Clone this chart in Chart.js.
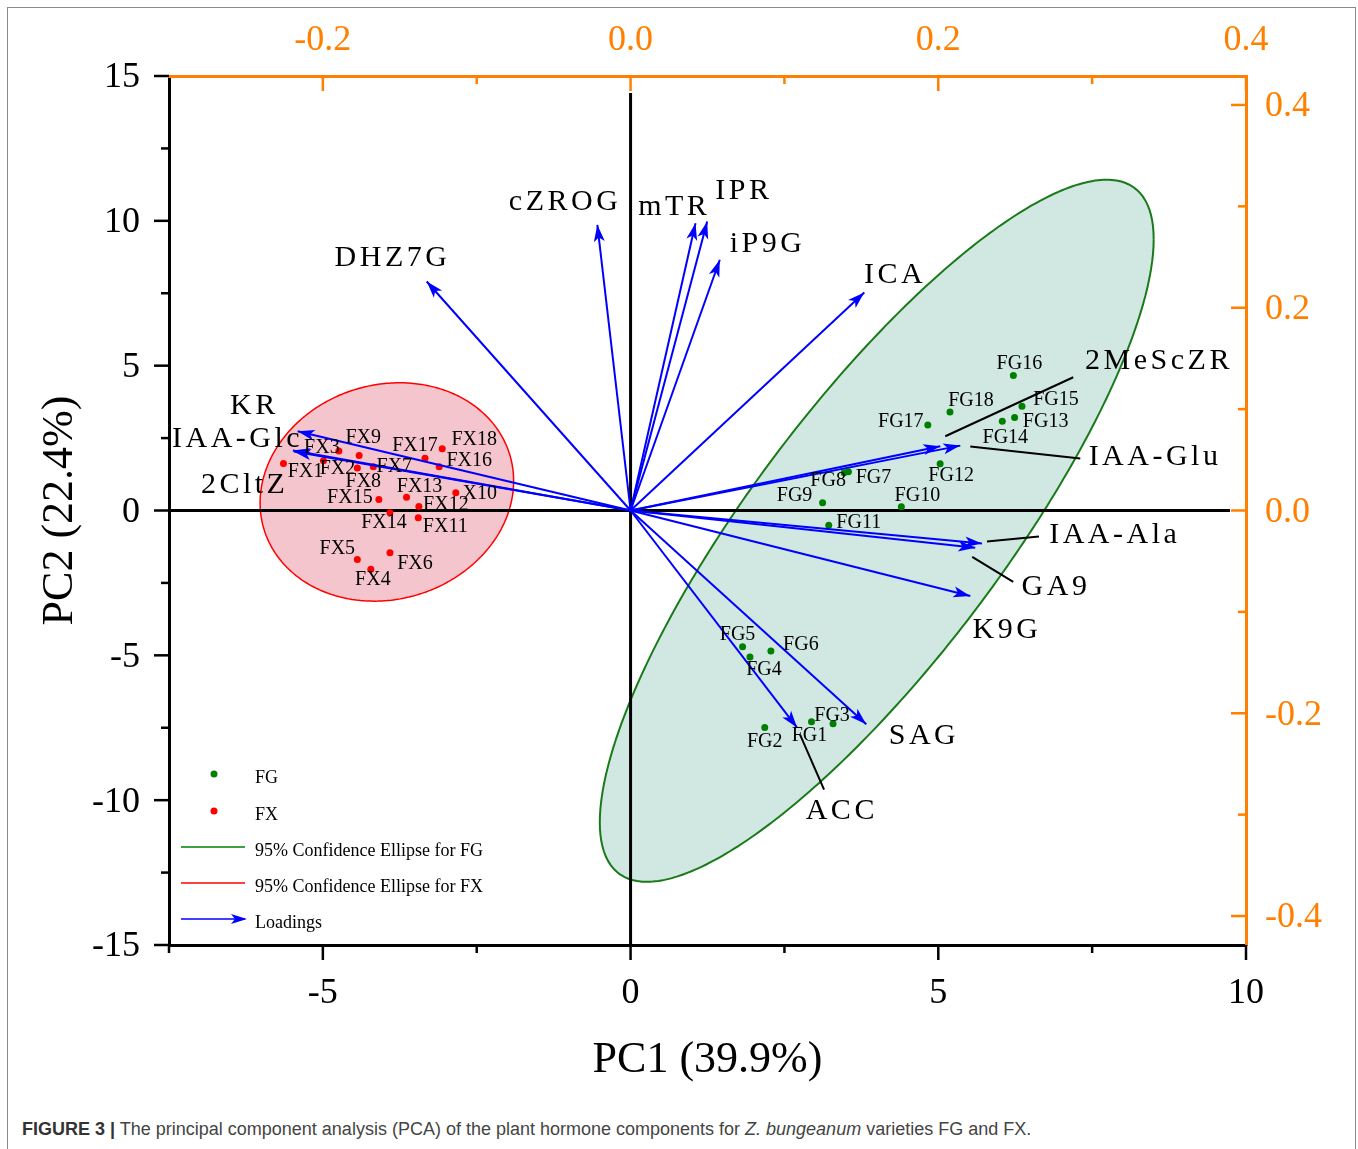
<!DOCTYPE html>
<html>
<head>
<meta charset="utf-8">
<script src="https://cdn.jsdelivr.net/npm/chart.js@4.4.0/dist/chart.umd.min.js"></script>
<style>
html, body { margin: 0; padding: 0; background: #fff; }
#wrap { position: relative; width: 1358px; height: 1149px; overflow: hidden; }
#frame { position: absolute; left: 7px; top: 7px; width: 1349px; height: 1200px; box-sizing: border-box;
         border: 1.5px solid #8a8a8a; border-bottom: none; }
#cv { position: absolute; left: 0; top: 0; }
#caption { position: absolute; left: 22px; top: 1119px; font: 18px 'Liberation Sans', Arial, sans-serif;
           color: #444; white-space: nowrap; }
#caption b { color: #333; }
</style>
</head>
<body>
<div id="wrap">
  <div id="frame"></div>
  <canvas id="cv" width="1358" height="1100"></canvas>
  <div id="caption"><b>FIGURE 3 |</b> The principal component analysis (PCA) of the plant hormone components for <i>Z. bungeanum</i> varieties FG and FX.</div>
</div>
<script>
// sample scores (PC1, PC2)
const fgNames = ['FG1','FG2','FG3','FG4','FG5','FG6','FG7','FG8','FG9','FG10','FG11','FG12','FG13','FG14','FG15','FG16','FG17','FG18'];
const fgPC1 = [2.94, 2.18, 3.29, 1.94, 1.82, 2.28, 3.54, 3.47, 3.12, 4.40, 3.22, 5.03, 6.24, 6.04, 6.36, 6.22, 4.83, 5.19];
const fgPC2 = [-7.29, -7.49, -7.36, -5.06, -4.70, -4.85, 1.34, 1.30, 0.27, 0.13, -0.51, 1.61, 3.21, 3.08, 3.60, 4.66, 2.95, 3.40];

const fxNames = ['FX1','FX2','FX3','FX4','FX5','FX6','FX7','FX8','FX9','X10','FX11','FX12','FX13','FX14','FX15','FX16','FX17','FX18'];
const fxPC1 = [-5.64, -4.99, -4.74, -4.22, -4.44, -3.91, -4.18, -4.44, -4.41, -2.84, -3.45, -3.44, -3.64, -3.91, -4.09, -3.11, -3.34, -3.06];
const fxPC2 = [1.62, 1.72, 2.05, -2.03, -1.69, -1.46, 1.51, 1.47, 1.90, 0.61, -0.25, 0.14, 0.46, -0.08, 0.38, 1.51, 1.80, 2.13];

// variable loadings (top / right axes)
const loadNames = ['DHZ7G','cZROG','mTR','IPR','iP9G','ICA','KR','IAA-Glc','2CltZ','2MeScZR','IAA-Glu','IAA-Ala','GA9','K9G','SAG','ACC'];
const loadPC1 = [-0.1325, -0.0216, 0.0422, 0.0498, 0.0580, 0.1519, -0.2164, -0.2195, -0.2188, 0.2013, 0.2143, 0.2284, 0.2240, 0.2208, 0.1532, 0.1082];
const loadPC2 = [0.2259, 0.2818, 0.2834, 0.2850, 0.2473, 0.2151, 0.0781, 0.0591, 0.0581, 0.0634, 0.0640, -0.0325, -0.0368, -0.0844, -0.2108, -0.2141];

// 95% confidence ellipses: centre PC1, centre PC2, half range PC1, half range PC2, correlation
const fgEllipse = [4.00, -0.70, 4.50, 12.12, 0.83];
const fxEllipse = [-3.96, 0.64, 2.06, 3.77, 0.10];

// axis ticks
const pc1Ticks = [-5, 0, 5, 10];
const pc1Minor = [-7.5, -2.5, 2.5, 7.5];
const pc2Ticks = [-15, -10, -5, 0, 5, 10, 15];
const pc2Minor = [-12.5, -7.5, -2.5, 2.5, 7.5, 12.5];
const ldXTicks = [-0.2, 0, 0.2, 0.4];
const ldXMinor = [-0.1, 0.1, 0.3];
const ldYTicks = [-0.4, -0.2, 0, 0.2, 0.4];
const ldYMinor = [-0.3, -0.1, 0.1, 0.3];

// label placement (pixel offsets of label centre from its mark)
const fgLabelOff = [[-2,14],[0,14],[-1,-8],[14,13],[-5,-12],[30,-6],[25,6],[-16,8],[-28,-7],[16,-11],[30,-3],[11,12],[31,4],[3,16],[34,-6],[6,-12],[-27,-3],[21,-11]];
const fxLabelOff = [[22,8],[14,8],[-17,-3],[2,10],[-20,-11],[25,11],[21,0],[6,14],[4,-18],[24,1],[27,9],[27,-2],[13,-10],[-6,10],[-29,-2],[30,-6],[-10,-13],[32,-9]];
const loadLabelOff = [[-36,-23],[-34,-23],[-23,-16],[35,-30],[46,-16],[29,-17],[-45,-25],[-57,-11],[-51,34],[217,-85],[193,12],[131,-8],[79,39],[35,34],[56,12],[43,84]];
const loadLeader = [null,null,null,null,null,null,null,null,null,[5,-10,133,-69],[10,1,120,13],[5,-2,57,-7],[-3,9,38,34],null,null,[3,7,27,62]];

const SERIF = "'Liberation Serif', 'Times New Roman', serif";
const ORANGE = '#ff8000';

function ellipsePoints(e) {
    const [cx, cy, rx, ry, c] = e;
    const phi = Math.acos(c);
    const pts = [];
    for (let i = 0; i <= 180; i++) {
        const t = i / 180 * 2 * Math.PI;
        pts.push({ x: cx + rx * Math.cos(t), y: cy + ry * Math.cos(t - phi) });
    }
    return pts;
}

const datasets = [];
datasets.push({
    label: 'FG ellipse', data: ellipsePoints(fgEllipse), showLine: true, fill: 'shape', tension: 0.001,
    backgroundColor: 'rgba(170,214,200,0.55)', borderColor: '#1a7a1a', borderWidth: 2,
    pointRadius: 0, order: 11
});
datasets.push({
    label: 'FX ellipse', data: ellipsePoints(fxEllipse), showLine: true, fill: 'shape', tension: 0.001,
    backgroundColor: 'rgba(236,150,165,0.55)', borderColor: '#ff0000', borderWidth: 1.5,
    pointRadius: 0, order: 10
});
datasets.push({
    label: 'FG', data: fgPC1.map((v, i) => ({ x: v, y: fgPC2[i] })),
    backgroundColor: '#008000', borderWidth: 0, pointRadius: 3.5, order: 2
});
datasets.push({
    label: 'FX', data: fxPC1.map((v, i) => ({ x: v, y: fxPC2[i] })),
    backgroundColor: '#ff0000', borderWidth: 0, pointRadius: 3.5, order: 2
});
loadNames.forEach((n, i) => {
    datasets.push({
        label: n, isLoading: true, data: [{ x: 0, y: 0 }, { x: loadPC1[i], y: loadPC2[i] }],
        xAxisID: 'x2', yAxisID: 'y2', showLine: true, borderColor: '#0000ff', borderWidth: 2,
        pointRadius: 0, order: 1
    });
});

function arrowHead(ctx, x, y, ang, len, half) {
    ctx.save();
    ctx.translate(x, y);
    ctx.rotate(ang);
    ctx.beginPath();
    ctx.moveTo(0, 0);
    ctx.lineTo(-len, -half);
    ctx.lineTo(-len * 0.75, 0);
    ctx.lineTo(-len, half);
    ctx.closePath();
    ctx.fill();
    ctx.restore();
}

function spacedText(ctx, txt, cx, cy, sp) {
    ctx.letterSpacing = sp + 'px';
    const w = ctx.measureText(txt).width - sp;
    ctx.textAlign = 'left';
    ctx.fillText(txt, cx - w / 2, cy);
    ctx.letterSpacing = '0px';
}

const pcaPlugin = {
    id: 'pca',
    afterDatasetDraw(chart, args) {
        // zero lines sit on top of the ellipses, under points and arrows
        if (chart.data.datasets[args.index].label !== 'FX ellipse') return;
        const { ctx, chartArea: a, scales } = chart;
        const x0 = scales.x.getPixelForValue(0), y0 = scales.y.getPixelForValue(0);
        ctx.save();
        ctx.strokeStyle = '#000';
        ctx.lineWidth = 3;
        ctx.beginPath();
        ctx.moveTo(x0, a.top + 17); ctx.lineTo(x0, a.bottom);
        ctx.moveTo(a.left, y0); ctx.lineTo(a.right - 16, y0);
        ctx.stroke();
        ctx.restore();
    },
    afterDatasetsDraw(chart) {
        const { ctx } = chart;
        ctx.save();
        // arrow heads, loading labels, leader lines
        let li = 0;
        chart.data.datasets.forEach((ds, di) => {
            if (!ds.isLoading) return;
            const m = chart.getDatasetMeta(di);
            const p0 = m.data[0], p1 = m.data[1];
            const ang = Math.atan2(p1.y - p0.y, p1.x - p0.x);
            ctx.fillStyle = '#0000ff';
            arrowHead(ctx, p1.x, p1.y, ang, 17, 5.5);
            const off = loadLabelOff[li];
            ctx.fillStyle = '#000';
            ctx.font = '30px ' + SERIF;
            ctx.textBaseline = 'middle';
            spacedText(ctx, ds.label, p1.x + off[0], p1.y + off[1], 3.5);
            const ld = loadLeader[li];
            if (ld) {
                ctx.strokeStyle = '#000';
                ctx.lineWidth = 2;
                ctx.beginPath();
                ctx.moveTo(p1.x + ld[0], p1.y + ld[1]);
                ctx.lineTo(p1.x + ld[2], p1.y + ld[3]);
                ctx.stroke();
            }
            li++;
        });
        // sample labels
        ctx.font = '20px ' + SERIF;
        ctx.fillStyle = '#000';
        ctx.textAlign = 'center';
        ctx.textBaseline = 'middle';
        [['FG', fgNames, fgLabelOff], ['FX', fxNames, fxLabelOff]].forEach(([lab, names, offs]) => {
            const di = chart.data.datasets.findIndex(d => d.label === lab);
            const m = chart.getDatasetMeta(di);
            m.data.forEach((p, i) => {
                ctx.fillText(names[i], p.x + offs[i][0], p.y + offs[i][1]);
            });
        });
        ctx.restore();
    },
    afterDraw(chart) {
        const { ctx, chartArea: a, scales } = chart;
        ctx.save();
        ctx.lineWidth = 2.5;
        // tick marks: black axes outward, orange axes inward
        const marks = [
            [scales.y, pc2Ticks, pc2Minor, '#000', 'left'],
            [scales.x, pc1Ticks, pc1Minor, '#000', 'bottom'],
            [scales.x2, ldXTicks, ldXMinor, ORANGE, 'top'],
            [scales.y2, ldYTicks, ldYMinor, ORANGE, 'right']
        ];
        marks.forEach(([s, major, minor, col, pos]) => {
            ctx.strokeStyle = col;
            [[major, 15], [minor, 8]].forEach(([vals, len]) => {
                vals.forEach(v => {
                    const p = s.getPixelForValue(v);
                    ctx.beginPath();
                    if (pos === 'left') { ctx.moveTo(a.left - len, p); ctx.lineTo(a.left, p); }
                    if (pos === 'bottom') { ctx.moveTo(p, a.bottom); ctx.lineTo(p, a.bottom + len); }
                    if (pos === 'top') { ctx.moveTo(p, a.top); ctx.lineTo(p, a.top + len); }
                    if (pos === 'right') { ctx.moveTo(a.right - len, p); ctx.lineTo(a.right, p); }
                    ctx.stroke();
                });
            });
        });
        // legend
        ctx.font = '18px ' + SERIF;
        ctx.textAlign = 'left';
        ctx.textBaseline = 'middle';
        const lx = 181, tx = 255;
        ctx.fillStyle = '#008000';
        ctx.beginPath(); ctx.arc(214, 774, 3.5, 0, 2 * Math.PI); ctx.fill();
        ctx.fillStyle = '#ff0000';
        ctx.beginPath(); ctx.arc(214, 811, 3.5, 0, 2 * Math.PI); ctx.fill();
        ctx.lineWidth = 1.5;
        [['#008000', 847], ['#ff0000', 883], ['#0000ff', 919]].forEach(([c, y]) => {
            ctx.strokeStyle = c;
            ctx.beginPath(); ctx.moveTo(lx, y); ctx.lineTo(lx + 64, y); ctx.stroke();
        });
        ctx.fillStyle = '#0000ff';
        arrowHead(ctx, lx + 66, 919, 0, 16, 5);
        ctx.fillStyle = '#000';
        ctx.fillText('FG', tx, 778);
        ctx.fillText('FX', tx, 815);
        ctx.fillText('95% Confidence Ellipse for FG', tx, 851);
        ctx.fillText('95% Confidence Ellipse for FX', tx, 887);
        ctx.fillText('Loadings', tx, 923);
        ctx.restore();
    }
};

function fixedTicks(vals) {
    return function(scale) { scale.ticks = vals.map(v => ({ value: v })); };
}

new Chart(document.getElementById('cv').getContext('2d'), {
    type: 'scatter',
    data: { datasets: datasets },
    options: {
        responsive: false,
        animation: false,
        layout: { padding: 0 },
        plugins: { legend: { display: false }, tooltip: { enabled: false } },
        scales: {
            x: {
                type: 'linear', position: 'bottom', min: -7.5, max: 10,
                afterBuildTicks: fixedTicks(pc1Ticks),
                afterFit: s => { s.height = 155; },
                grid: { display: false, drawTicks: false },
                border: { color: '#000', width: 3 },
                ticks: { font: { family: SERIF, size: 36 }, color: '#000', padding: 27, maxRotation: 0, autoSkip: false,
                         callback: v => String(v) },
                title: { display: true, text: 'PC1 (39.9%)', color: '#000', font: { family: SERIF, size: 44 },
                         padding: { top: 0, bottom: 13 } }
            },
            y: {
                type: 'linear', position: 'left', min: -15, max: 15,
                afterBuildTicks: fixedTicks(pc2Ticks),
                afterFit: s => { s.width = 169; },
                grid: { display: false, drawTicks: false },
                border: { color: '#000', width: 3 },
                ticks: { font: { family: SERIF, size: 36 }, color: '#000', padding: 29, autoSkip: false,
                         labelOffset: 2, callback: v => String(v) },
                title: { display: true, text: 'PC2 (22.4%)', color: '#000', font: { family: SERIF, size: 44 },
                         padding: { top: 34, bottom: 0 } }
            },
            x2: {
                type: 'linear', position: 'top', min: -0.3, max: 0.4,
                afterBuildTicks: fixedTicks(ldXTicks),
                afterFit: s => { s.height = 76; },
                grid: { display: false, drawTicks: false },
                border: { color: ORANGE, width: 3 },
                ticks: { font: { family: SERIF, size: 36 }, color: ORANGE, padding: 14, maxRotation: 0, autoSkip: false,
                         callback: v => v.toFixed(1) }
            },
            y2: {
                type: 'linear', position: 'right', min: -15 / 35, max: 15 / 35,
                afterBuildTicks: fixedTicks(ldYTicks),
                afterFit: s => { s.width = 112; },
                grid: { display: false, drawTicks: false },
                border: { color: ORANGE, width: 3 },
                ticks: { font: { family: SERIF, size: 36 }, color: ORANGE, padding: 19, autoSkip: false,
                         labelOffset: 2, callback: v => v.toFixed(1) }
            }
        }
    },
    plugins: [pcaPlugin]
});
</script>
</body>
</html>
